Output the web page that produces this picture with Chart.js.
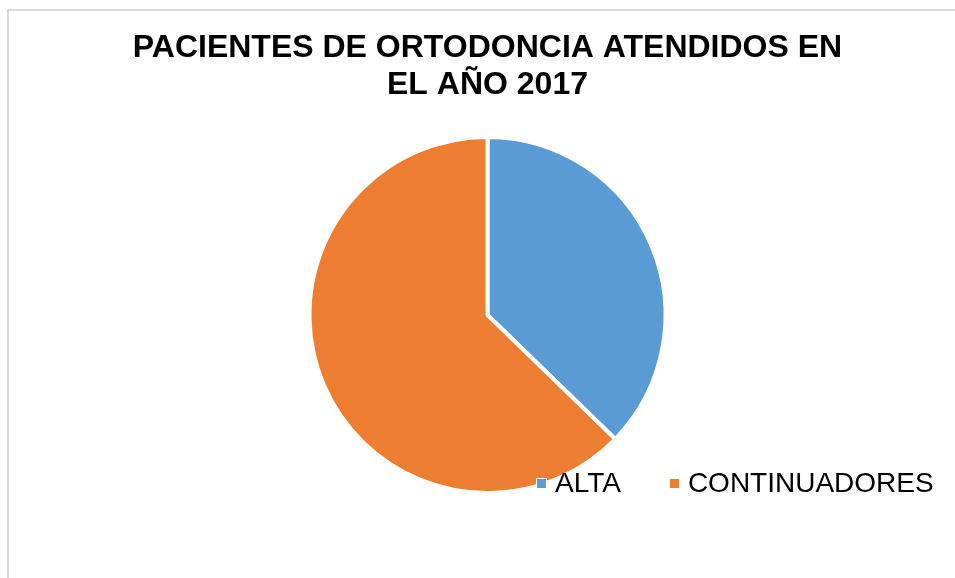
<!DOCTYPE html>
<html>
<head>
<meta charset="utf-8">
<script src="https://cdn.jsdelivr.net/npm/chart.js@4"></script>
<style>
    body { margin: 0; background: #fff; }
    #wrap { position: relative; width: 955px; height: 578px; overflow: hidden; }
    #frame { position: absolute; left: 7px; top: 9px; width: 1000px; height: 700px; border: 2px solid #d9d9d9; box-sizing: border-box; }
    canvas { position: absolute; left: 0; top: 0; }
    #legend { position: absolute; left: 536px; top: 469px; display: flex; align-items: center;
              font-family: Arial, "Liberation Sans", sans-serif; font-size: 28px; line-height: 28px; color: #000; }
    .item { display: flex; align-items: center; }
    .item + .item { margin-left: 48px; }
    .box { width: 9px; height: 9px; border: 1px solid #fff; margin-right: 8px; }
</style>
</head>
<body>
<div id="wrap">
    <div id="frame"></div>
    <canvas id="chart" width="955" height="578"></canvas>
    <div id="legend"></div>
</div>
<script>
const titleLines = ['PACIENTES DE ORTODONCIA ATENDIDOS EN', 'EL AÑO 2017'];
const categories = ['ALTA', 'CONTINUADORES'];
const patients = [41, 69];
const sliceColors = ['#5B9BD5', '#ED7D31'];

document.addEventListener('DOMContentLoaded', () => {
    const ctx = document.getElementById('chart').getContext('2d');

    new Chart(ctx, {
        type: 'pie',
        data: {
            labels: categories,
            datasets: [{
                data: patients,
                backgroundColor: sliceColors,
                borderColor: '#ffffff',
                borderWidth: 4
            }]
        },
        options: {
            responsive: false,
            animation: false,
            radius: 178,
            layout: {
                padding: { top: 30, left: 20, right: 0, bottom: 62 }
            },
            plugins: {
                legend: { display: false },
                tooltip: { enabled: false },
                title: {
                    display: true,
                    text: titleLines,
                    color: '#000',
                    font: { family: 'Arial, "Liberation Sans", sans-serif', size: 32, weight: 'bold', lineHeight: 1.156 },
                    padding: { top: 0, bottom: 10 }
                }
            }
        }
    });

    // legend built from the same arrays
    const legend = document.getElementById('legend');
    categories.forEach((name, i) => {
        const item = document.createElement('div');
        item.className = 'item';
        const box = document.createElement('span');
        box.className = 'box';
        box.style.background = sliceColors[i];
        const label = document.createElement('span');
        label.textContent = name;
        item.appendChild(box);
        item.appendChild(label);
        legend.appendChild(item);
    });
});
</script>
</body>
</html>
